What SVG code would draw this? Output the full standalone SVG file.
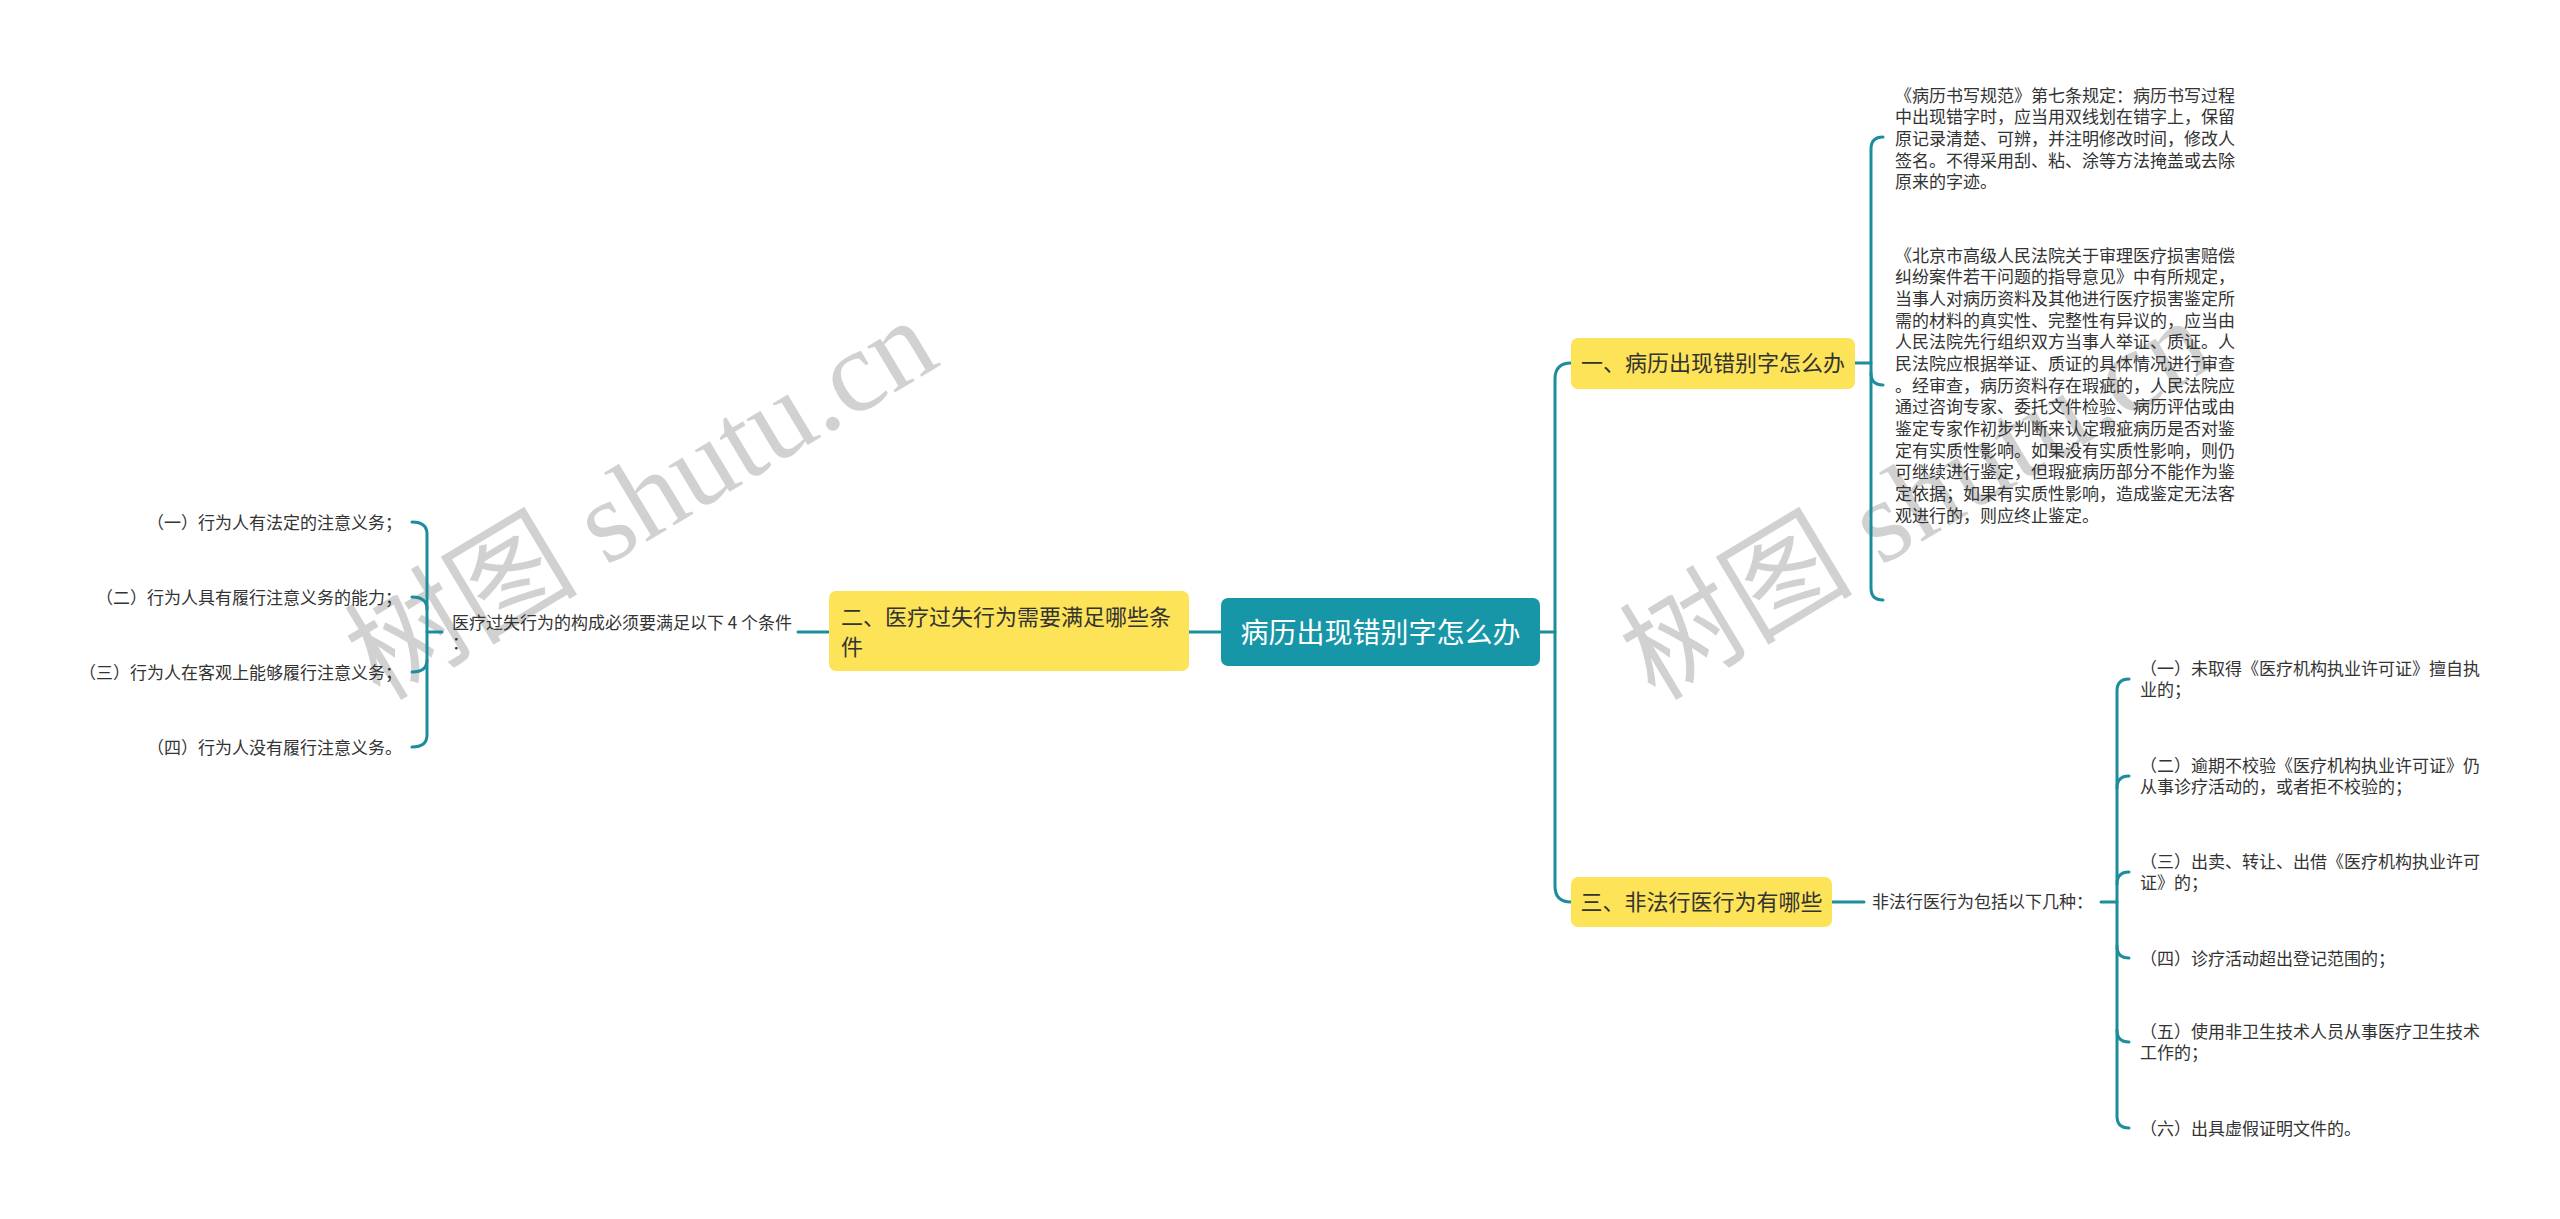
<svg xmlns="http://www.w3.org/2000/svg" width="2560" height="1219" viewBox="0 0 2560 1219">
<style>
.bg{fill:#ffffff}
.wm{font-family:"Liberation Serif","Noto Sans CJK SC",serif;font-size:117px;fill:#000;fill-opacity:0.18}
.root{fill:#1696a6}
.roott{font-family:"Noto Sans CJK SC","Noto Sans",sans-serif;font-size:28px;fill:#ffffff}
.sub{fill:#fde358}
.subt{font-family:"Noto Sans CJK SC","Noto Sans",sans-serif;font-size:22px;fill:#333333}
.leaf{font-family:"Noto Sans CJK SC","Noto Sans",sans-serif;font-size:17px;fill:#333333}
.c{fill:none;stroke:#1d8d9c;stroke-width:3;stroke-linecap:round}
</style>
<rect class="bg" x="0" y="0" width="2560" height="1219"/>
<g id="watermarks">
<text class="wm" transform="translate(380,702) rotate(-31)">树图 shutu.cn</text>
<text class="wm" transform="translate(1655,702) rotate(-31)">树图 shutu.cn</text>
</g>
<g id="connectors">
<path class="c" d="M1221 632 L1189 632"/>
<path class="c" d="M1540 632 L1555 632"/>
<path class="c" d="M1571 363 Q1555 363 1555 379 L1555 886 Q1555 902 1571 902"/>
<path class="c" d="M1855 363 L1871 363"/>
<path class="c" d="M1883 137 Q1871 137 1871 149 L1871 588 Q1871 600 1883 600"/>
<path class="c" d="M1871 373 Q1871 385 1883 385"/>
<path class="c" d="M1832 902 L1864 902"/>
<path class="c" d="M2101 902 L2117 902"/>
<path class="c" d="M2129 679 Q2117 679 2117 691 L2117 1116 Q2117 1128 2129 1128"/>
<path class="c" d="M2117 788 Q2117 776 2129 776"/>
<path class="c" d="M2117 884 Q2117 872 2129 872"/>
<path class="c" d="M2117 946 Q2117 958 2129 958"/>
<path class="c" d="M2117 1030 Q2117 1042 2129 1042"/>
<path class="c" d="M829 632 L798 632"/>
<path class="c" d="M442 632 L427 632"/>
<path class="c" d="M412 522 Q427 522 427 534 L427 735 Q427 747 412 747"/>
<path class="c" d="M427 609 Q427 597 412 597"/>
<path class="c" d="M427 660 Q427 672 412 672"/>
</g>
<g id="root">
<rect class="root" x="1221" y="598" width="319" height="68" rx="7"/>
<text class="roott" x="1380.5" y="642.5" text-anchor="middle">病历出现错别字怎么办</text>
</g>
<g id="node1">
<rect class="sub" x="1571" y="338" width="284" height="51" rx="7"/>
<text class="subt" x="1713" y="371" text-anchor="middle">一、病历出现错别字怎么办</text>
</g>
<g id="node2">
<rect class="sub" x="829" y="591" width="360" height="80" rx="7"/>
<text class="subt" x="841" y="625">二、医疗过失行为需要满足哪些条</text>
<text class="subt" x="841" y="655">件</text>
</g>
<g id="node3">
<rect class="sub" x="1571" y="877" width="261" height="50" rx="7"/>
<text class="subt" x="1701.5" y="910" text-anchor="middle">三、非法行医行为有哪些</text>
</g>
<g id="leaf1-1">
<text class="leaf" x="1895" y="101.5">《病历书写规范》第七条规定：病历书写过程</text>
<text class="leaf" x="1895" y="123.2">中出现错字时，应当用双线划在错字上，保留</text>
<text class="leaf" x="1895" y="144.8">原记录清楚、可辨，并注明修改时间，修改人</text>
<text class="leaf" x="1895" y="166.5">签名。不得采用刮、粘、涂等方法掩盖或去除</text>
<text class="leaf" x="1895" y="188.2">原来的字迹。</text>
</g>
<g id="leaf1-2">
<text class="leaf" x="1895" y="261.5">《北京市高级人民法院关于审理医疗损害赔偿</text>
<text class="leaf" x="1895" y="283.2">纠纷案件若干问题的指导意见》中有所规定，</text>
<text class="leaf" x="1895" y="304.8">当事人对病历资料及其他进行医疗损害鉴定所</text>
<text class="leaf" x="1895" y="326.5">需的材料的真实性、完整性有异议的，应当由</text>
<text class="leaf" x="1895" y="348.2">人民法院先行组织双方当事人举证、质证。人</text>
<text class="leaf" x="1895" y="369.8">民法院应根据举证、质证的具体情况进行审查</text>
<text class="leaf" x="1895" y="391.5">。经审查，病历资料存在瑕疵的，人民法院应</text>
<text class="leaf" x="1895" y="413.2">通过咨询专家、委托文件检验、病历评估或由</text>
<text class="leaf" x="1895" y="434.8">鉴定专家作初步判断来认定瑕疵病历是否对鉴</text>
<text class="leaf" x="1895" y="456.5">定有实质性影响。如果没有实质性影响，则仍</text>
<text class="leaf" x="1895" y="478.2">可继续进行鉴定，但瑕疵病历部分不能作为鉴</text>
<text class="leaf" x="1895" y="499.8">定依据；如果有实质性影响，造成鉴定无法客</text>
<text class="leaf" x="1895" y="521.5">观进行的，则应终止鉴定。</text>
</g>
<g id="leaf1-3"></g>
<g id="leaf2-main">
<text class="leaf" x="452" y="628.5">医疗过失行为的构成必须要满足以下 4 个条件</text>
<text class="leaf" x="452" y="648.5">：</text>
</g>
<g id="leaf2-1"><text class="leaf" x="402" y="528.5" text-anchor="end">（一）行为人有法定的注意义务；</text></g>
<g id="leaf2-2"><text class="leaf" x="402" y="603.5" text-anchor="end">（二）行为人具有履行注意义务的能力；</text></g>
<g id="leaf2-3"><text class="leaf" x="402" y="678.5" text-anchor="end">（三）行为人在客观上能够履行注意义务；</text></g>
<g id="leaf2-4"><text class="leaf" x="402" y="753.5" text-anchor="end">（四）行为人没有履行注意义务。</text></g>
<g id="leaf3-main"><text class="leaf" x="1872" y="907.5">非法行医行为包括以下几种：</text></g>
<g id="leaf3-1">
<text class="leaf" x="2140" y="674.7">（一）未取得《医疗机构执业许可证》擅自执</text>
<text class="leaf" x="2140" y="696.3">业的；</text>
</g>
<g id="leaf3-2">
<text class="leaf" x="2140" y="771.7">（二）逾期不校验《医疗机构执业许可证》仍</text>
<text class="leaf" x="2140" y="793.3">从事诊疗活动的，或者拒不校验的；</text>
</g>
<g id="leaf3-3">
<text class="leaf" x="2140" y="867.7">（三）出卖、转让、出借《医疗机构执业许可</text>
<text class="leaf" x="2140" y="889.3">证》的；</text>
</g>
<g id="leaf3-4"><text class="leaf" x="2140" y="964.5">（四）诊疗活动超出登记范围的；</text></g>
<g id="leaf3-5">
<text class="leaf" x="2140" y="1037.7">（五）使用非卫生技术人员从事医疗卫生技术</text>
<text class="leaf" x="2140" y="1059.3">工作的；</text>
</g>
<g id="leaf3-6"><text class="leaf" x="2140" y="1134.5">（六）出具虚假证明文件的。</text></g>
</svg>
